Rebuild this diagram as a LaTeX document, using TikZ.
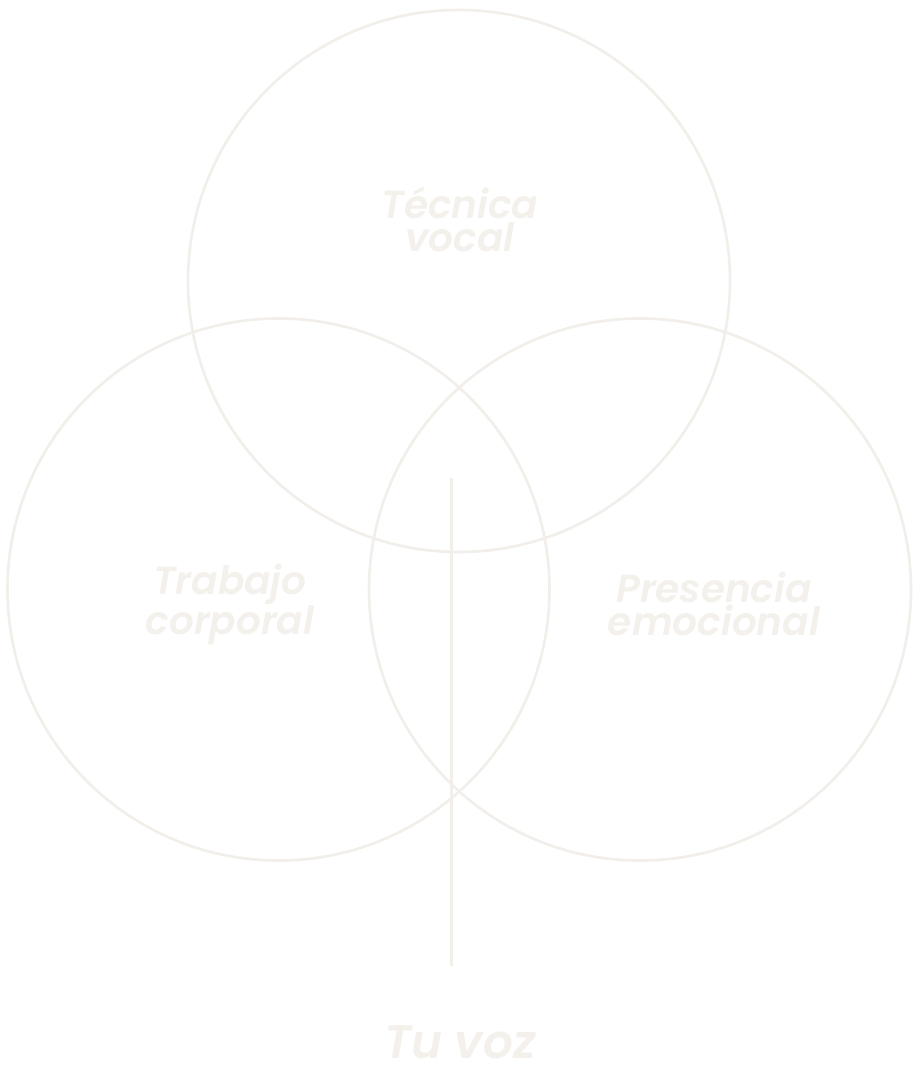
\documentclass[tikz,border=0pt]{standalone}
\usepackage{fontspec}
\setmainfont{Poppins}
\newfontfamily\popsb{Poppins SemiBold Italic}
\definecolor{cream}{HTML}{F2EFEA}
\definecolor{creamtxt}{HTML}{F4F1EC}
\begin{document}
\begin{tikzpicture}[x=1pt,y=-1pt,
  ring/.style={draw=cream,line width=2.6pt},
  lbl/.style={text=creamtxt,font=\popsb\fontsize{39}{33}\selectfont,align=center,inner sep=0pt},
  big/.style={text=creamtxt,font=\popsb\fontsize{47}{47}\selectfont,inner sep=0pt}]
\useasboundingbox[fill=white] (0,0) rectangle (918,1079);
\node[circle,ring,minimum size=542pt] (top) at (459,281) {};
\node[circle,ring,minimum size=542pt] (left) at (278.5,589.5) {};
\node[circle,ring,minimum size=542pt] (right) at (640,589.5) {};
\node[lbl] (tv) at (460,219) {Técnica\\vocal};
\node[lbl] (tc) at (230,604) {Trabajo\\corporal};
\node[lbl] (pe) at (714,604) {Presencia\\emocional};
\coordinate (ls) at (451,478);
\coordinate (le) at (451,966);
\draw[cream,line width=3pt] (ls) -- (le);
\node[big] (tu) at (460,1042) {Tu voz};
\end{tikzpicture}
\end{document}
